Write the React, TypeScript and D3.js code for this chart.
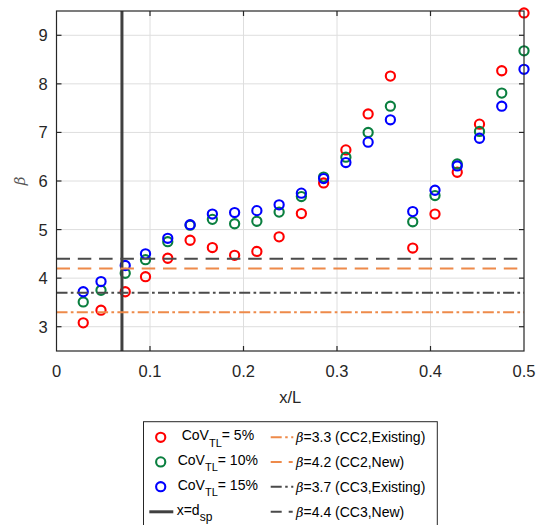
import React from "react";
import * as d3 from "d3";

const xPos = [0.0286, 0.0476, 0.0735, 0.0952, 0.119, 0.1429, 0.1667, 0.1905, 0.2143, 0.2381, 0.2619, 0.2857, 0.3095, 0.3333, 0.3571, 0.381, 0.4048, 0.4286, 0.4524, 0.4762, 0.5];
const cov5 = [3.08, 3.34, 3.72, 4.03, 4.41, 4.78, 4.63, 4.47, 4.55, 4.85, 5.33, 5.96, 6.64, 7.38, 8.16, 4.62, 5.32, 6.18, 7.17, 8.27, 9.46];
const cov10 = [3.51, 3.75, 4.1, 4.38, 4.75, 5.09, 5.21, 5.12, 5.17, 5.36, 5.68, 6.08, 6.49, 7.0, 7.54, 5.16, 5.7, 6.35, 7.02, 7.81, 8.68];
const cov15 = [3.72, 3.93, 4.26, 4.5, 4.82, 5.1, 5.32, 5.35, 5.39, 5.51, 5.75, 6.05, 6.38, 6.8, 7.26, 5.37, 5.81, 6.31, 6.88, 7.54, 8.3];
const dsp = 0.07;
const xTicks = [0, 0.1, 0.2, 0.3, 0.4, 0.5];
const yTicks = [3, 4, 5, 6, 7, 8, 9];
const seriesLabels = ["5%", "10%", "15%"];
const seriesColors = ["#ff0000", "#0a7f3f", "#0000ff"];
const betaValues = [3.3, 4.2, 3.7, 4.4];
const betaLabels = ["3.3 (CC2,Existing)", "4.2 (CC2,New)", "3.7 (CC3,Existing)", "4.4 (CC3,New)"];
const betaColors = ["#ee8a4a", "#ee8a4a", "#4a4a4a", "#4a4a4a"];
const betaDash = ["11 3.3 2.7 3.3", "13.5 7.8", "11 3.3 2.7 3.3", "13.5 7.8"];

const FONT = "'Liberation Sans', Arial, Helvetica, sans-serif";

export default function App() {
  const L = 56.5, R = 524, T = 11, B = 351;
  const x = d3.scaleLinear().domain([0, 0.5]).range([L, R]);
  const y = d3.scaleLinear().domain([2.5, 9.5]).range([B, T]);
  const series = [cov5, cov10, cov15];
  const axisColor = "#262626";
  const rowY = [437.3, 461.9, 486.7, 511.8];

  return (
    <svg width={541} height={525} style={{ position: "absolute", left: 0, top: 0, background: "#fff" }} fontFamily={FONT}>
      <rect x={0} y={0} width={541} height={525} fill="#fff" />
      {/* grid */}
      {xTicks.slice(1, -1).map((t) => (
        <line key={"gx" + t} x1={x(t)} x2={x(t)} y1={T} y2={B} stroke="#dedede" strokeWidth={1} />
      ))}
      {yTicks.map((t) => (
        <line key={"gy" + t} x1={L} x2={R} y1={y(t)} y2={y(t)} stroke="#dedede" strokeWidth={1} />
      ))}
      {/* points */}
      {series.map((s, si) =>
        s.map((v, i) => (
          <circle key={si + "-" + i} cx={x(xPos[i])} cy={y(v)} r={4.6} fill="none" stroke={seriesColors[si]} strokeWidth={2.1} />
        ))
      )}
      {/* vertical line */}
      <line x1={x(dsp)} x2={x(dsp)} y1={T} y2={B} stroke="#404040" strokeWidth={3} />
      {/* horizontal lines */}
      {betaValues.map((b, i) => (
        <line key={"h" + i} x1={L} x2={R} y1={y(b)} y2={y(b)} stroke={betaColors[i]} strokeWidth={2} strokeDasharray={betaDash[i]} />
      ))}
      {/* axes box */}
      <rect x={L} y={T} width={R - L} height={B - T} fill="none" stroke={axisColor} strokeWidth={1.2} />
      {xTicks.slice(1, -1).map((t) => (
        <g key={"tx" + t}>
          <line x1={x(t)} x2={x(t)} y1={B} y2={B - 5} stroke={axisColor} strokeWidth={1.2} />
          <line x1={x(t)} x2={x(t)} y1={T} y2={T + 5} stroke={axisColor} strokeWidth={1.2} />
        </g>
      ))}
      {yTicks.map((t) => (
        <g key={"ty" + t}>
          <line x1={L} x2={L + 5} y1={y(t)} y2={y(t)} stroke={axisColor} strokeWidth={1.2} />
          <line x1={R} x2={R - 5} y1={y(t)} y2={y(t)} stroke={axisColor} strokeWidth={1.2} />
        </g>
      ))}
      {/* tick labels */}
      {xTicks.map((t) => (
        <text key={"lx" + t} x={x(t)} y={376.7} textAnchor="middle" fontSize={16.5} fill={axisColor}>
          {d3.format("")(t)}
        </text>
      ))}
      {yTicks.map((t) => (
        <text key={"ly" + t} x={47.8} y={y(t) + 6} textAnchor="end" fontSize={16.5} fill={axisColor}>
          {t}
        </text>
      ))}
      {/* axis labels */}
      <text x={(L + R) / 2} y={403.3} textAnchor="middle" fontSize={16.5} fill={axisColor}>x/L</text>
      <text transform={`translate(25,${(T + B) / 2}) rotate(-90)`} textAnchor="middle" fontSize={15} fontStyle="italic" fill="#555" fontFamily="'DejaVu Serif', serif">β</text>
      {/* legend */}
      <rect x={143.5} y={421.7} width={293.8} height={110} fill="#fff" stroke={axisColor} strokeWidth={1} />
      {seriesLabels.map((lab, i) => (
        <g key={"lg" + i}>
          <circle cx={160.7} cy={rowY[i]} r={4.6} fill="none" stroke={seriesColors[i]} strokeWidth={2.1} />
          <text x={i === 0 ? 181.7 : 177.7} y={rowY[i] + 3} fontSize={14} fill="#000">
            CoV
            <tspan dy={6.5} fontSize={11}>TL</tspan>
            <tspan dy={-6.5}>= {lab}</tspan>
          </text>
        </g>
      ))}
      <line x1={149.3} x2={173.3} y1={rowY[3]} y2={rowY[3]} stroke="#404040" strokeWidth={3} />
      <text x={176.7} y={rowY[3] + 3} fontSize={14} fill="#000">
        x=d<tspan dy={6.5} fontSize={12}>sp</tspan>
      </text>
      {betaLabels.map((lab, i) => (
        <g key={"lb" + i}>
          <line x1={270.7} x2={293.3} y1={rowY[i]} y2={rowY[i]} stroke={betaColors[i]} strokeWidth={2} strokeDasharray={i % 2 === 0 ? "11 3.5 2.5 3.5 2.5 10" : "11 7 4 10"} />
          <text x={296} y={rowY[i] + 5} fontSize={14} fill="#000">
            <tspan fontStyle="italic" fontFamily="'DejaVu Serif', serif" fontSize={13}>β</tspan>={lab}
          </text>
        </g>
      ))}
    </svg>
  );
}
